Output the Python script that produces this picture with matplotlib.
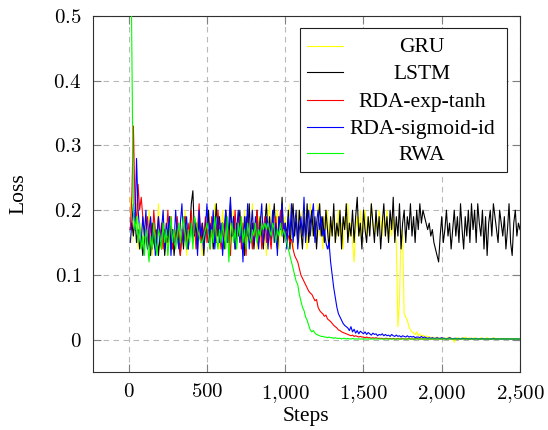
import matplotlib
matplotlib.use("Agg")
import matplotlib.pyplot as plt
from matplotlib.ticker import FixedLocator, FixedFormatter
from matplotlib.patches import Rectangle

plt.rcParams['font.family'] = ['Liberation Serif', 'DejaVu Serif']
plt.rcParams['mathtext.fontset'] = 'cm'

# ---------------- data ----------------
steps = list(range(10, 2510, 10))  # logged every 10 steps (250 points)

series_names = ["GRU", "LSTM", "RDA-exp-tanh", "RDA-sigmoid-id", "RWA"]
series_colors = ["#ffff00", "#000000", "#ff0000", "#0000ff", "#00ff00"]

gru = [
    0.22, 0.15, 0.20, 0.17, 0.21, 0.14, 0.18, 0.16, 0.19, 0.15,
    0.18, 0.14, 0.20, 0.16, 0.13, 0.19, 0.17, 0.15, 0.21, 0.14,
    0.17, 0.20, 0.15, 0.18, 0.13, 0.16, 0.19, 0.14, 0.17, 0.15,
    0.19, 0.16, 0.14, 0.18, 0.15, 0.20, 0.13, 0.17, 0.16, 0.19,
    0.15, 0.18, 0.14, 0.17, 0.20, 0.16, 0.13, 0.18, 0.15, 0.19,
    0.16, 0.14, 0.19, 0.17, 0.21, 0.15, 0.18, 0.14, 0.16, 0.20,
    0.17, 0.15, 0.19, 0.13, 0.18, 0.16, 0.20, 0.14, 0.17, 0.19,
    0.15, 0.18, 0.16, 0.20, 0.14, 0.17, 0.19, 0.15, 0.21, 0.16,
    0.18, 0.14, 0.19, 0.16, 0.20, 0.15, 0.17, 0.13, 0.18, 0.21,
    0.16, 0.19, 0.15, 0.18, 0.20, 0.14, 0.17, 0.21, 0.16, 0.19,
    0.15, 0.18, 0.21, 0.16, 0.14, 0.19, 0.17, 0.20, 0.15, 0.18,
    0.20, 0.16, 0.19, 0.14, 0.18, 0.21, 0.16, 0.19, 0.15, 0.17,
    0.21, 0.16, 0.18, 0.14, 0.19, 0.17, 0.20, 0.15, 0.18, 0.16,
    0.19, 0.15, 0.17, 0.20, 0.16, 0.18, 0.14, 0.19, 0.17, 0.21,
    0.16, 0.18, 0.15, 0.12, 0.17, 0.19, 0.16, 0.20, 0.15, 0.18,
    0.20, 0.16, 0.19, 0.17, 0.21, 0.18, 0.16, 0.19, 0.17, 0.20,
    0.18, 0.16, 0.19, 0.17, 0.20, 0.15, 0.18, 0.16, 0.19, 0.17,
    0.15, 0.02, 0.06, 0.17, 0.16, 0.04, 0.035, 0.03, 0.02, 0.015,
    0.012, 0.010, 0.008, 0.012, 0.006, 0.009, 0.005, 0.007, 0.004, 0.006,
    0.003, 0.005, 0.002, 0.004, 0.003, 0.002, 0.004, 0.002, 0.003, 0.001,
    0.003, 0.002, 0.001, 0.004, 0.002, 0.003, 0.001, -0.004, 0.002, 0.003,
    0.002, 0.001, 0.003, 0.002, 0.004, 0.001, 0.002, 0.003, 0.001, 0.002,
    0.003, 0.001, 0.002, 0.001, 0.003, 0.002, 0.001, 0.002, 0.003, 0.001,
    0.002, 0.001, 0.003, 0.002, 0.001, 0.002, 0.001, 0.002, 0.001, 0.002,
    0.001, 0.002, 0.001, 0.001, 0.002, 0.001, 0.002, 0.001, 0.001, 0.002,
]

lstm = [
    0.17, 0.18, 0.16, 0.19, 0.15, 0.17, 0.14, 0.16, 0.13, 0.15,
    0.17, 0.14, 0.16, 0.13, 0.18, 0.15, 0.14, 0.17, 0.13, 0.16,
    0.14, 0.18, 0.13, 0.16, 0.15, 0.19, 0.14, 0.17, 0.13, 0.16,
    0.18, 0.15, 0.13, 0.17, 0.14, 0.19, 0.16, 0.14, 0.17, 0.21,
    0.23, 0.16, 0.18, 0.14, 0.19, 0.15, 0.17, 0.13, 0.18, 0.16,
    0.20, 0.15, 0.18, 0.14, 0.17, 0.21, 0.16, 0.19, 0.15, 0.18,
    0.14, 0.20, 0.17, 0.15, 0.21, 0.16, 0.19, 0.14, 0.18, 0.16,
    0.20, 0.15, 0.17, 0.13, 0.19, 0.16, 0.21, 0.15, 0.18, 0.14,
    0.17, 0.20, 0.15, 0.19, 0.16, 0.14, 0.18, 0.21, 0.16, 0.19,
    0.15, 0.18, 0.21, 0.16, 0.14, 0.19, 0.17, 0.22, 0.15, 0.18,
    0.16, 0.20, 0.14, 0.18, 0.21, 0.16, 0.19, 0.15, 0.20, 0.17,
    0.14, 0.19, 0.16, 0.21, 0.15, 0.18, 0.20, 0.16, 0.19, 0.14,
    0.18, 0.21, 0.16, 0.19, 0.15, 0.20, 0.17, 0.14, 0.19, 0.16,
    0.21, 0.15, 0.18, 0.16, 0.20, 0.14, 0.19, 0.17, 0.21, 0.15,
    0.18, 0.16, 0.20, 0.15, 0.19, 0.22, 0.16, 0.18, 0.14, 0.20,
    0.17, 0.15, 0.19, 0.16, 0.21, 0.18, 0.15, 0.20, 0.16, 0.19,
    0.14, 0.18, 0.21, 0.16, 0.19, 0.15, 0.20, 0.17, 0.22, 0.15,
    0.19, 0.16, 0.21, 0.14, 0.18, 0.20, 0.15, 0.19, 0.17, 0.21,
    0.16, 0.19, 0.15, 0.20, 0.17, 0.21, 0.18, 0.20, 0.19, 0.18,
    0.17, 0.18, 0.16, 0.17, 0.15, 0.14, 0.13, 0.12, 0.16, 0.19,
    0.15, 0.17, 0.20, 0.16, 0.18, 0.14, 0.17, 0.20, 0.16, 0.19,
    0.15, 0.21, 0.17, 0.14, 0.19, 0.16, 0.20, 0.15, 0.21, 0.17,
    0.20, 0.15, 0.21, 0.18, 0.16, 0.20, 0.14, 0.19, 0.13, 0.18,
    0.20, 0.16, 0.21, 0.19, 0.17, 0.15, 0.20, 0.18, 0.16, 0.19,
    0.14, 0.17, 0.21, 0.15, 0.13, 0.18, 0.20, 0.16, 0.18, 0.17,
]

rda_exp_tanh = [
    0.17, 0.22, 0.33, 0.21, 0.18, 0.24, 0.20, 0.22, 0.19, 0.17,
    0.16, 0.19, 0.15, 0.18, 0.14, 0.20, 0.17, 0.15, 0.19, 0.16,
    0.18, 0.14, 0.17, 0.15, 0.20, 0.16, 0.19, 0.14, 0.17, 0.15,
    0.19, 0.16, 0.13, 0.17, 0.15, 0.19, 0.14, 0.18, 0.16, 0.20,
    0.16, 0.18, 0.14, 0.17, 0.21, 0.15, 0.18, 0.16, 0.19, 0.15,
    0.17, 0.14, 0.19, 0.16, 0.18, 0.15, 0.20, 0.17, 0.14, 0.18,
    0.16, 0.19, 0.15, 0.17, 0.13, 0.18, 0.16, 0.20, 0.15, 0.17,
    0.19, 0.14, 0.18, 0.16, 0.13, 0.19, 0.15, 0.17, 0.14, 0.18,
    0.16, 0.20, 0.15, 0.18, 0.14, 0.17, 0.19, 0.15, 0.18, 0.16,
    0.14, 0.18, 0.16, 0.19, 0.15, 0.17, 0.20, 0.16, 0.18, 0.17,
    0.165, 0.16, 0.15, 0.155, 0.14, 0.13, 0.125, 0.12, 0.11, 0.10,
    0.095, 0.09, 0.085, 0.08, 0.075, 0.072, 0.07, 0.065, 0.06, 0.062,
    0.05, 0.045, 0.042, 0.04, 0.036, 0.038, 0.032, 0.03, 0.028, 0.025,
    0.022, 0.02, 0.018, 0.015, 0.014, 0.012, 0.011, 0.010, 0.009, 0.008,
    0.007, 0.006, 0.007, 0.005, 0.006, 0.005, 0.004, 0.005, 0.004, 0.004,
    0.003, 0.004, 0.003, 0.003, 0.002, 0.003, 0.002, 0.003, 0.002, 0.002,
    0.002, 0.002, 0.001, 0.002, 0.002, 0.001, 0.002, 0.001, 0.002, 0.001,
    0.001, 0.002, 0.001, 0.001, 0.002, 0.001, 0.001, 0.001, 0.002, 0.001,
    0.001, 0.001, 0.001, 0.002, 0.001, 0.001, 0.001, 0.001, 0.001, 0.001,
    0.001, 0.001, 0.001, 0.001, 0.001, 0.001, 0.001, 0.001, 0.001, 0.001,
    0.001, 0.001, 0.001, 0.001, 0.001, 0.001, 0.001, 0.001, 0.001, 0.001,
    0.001, 0.001, 0.001, 0.001, 0.001, 0.001, 0.001, 0.001, 0.001, 0.001,
    0.001, 0.001, 0.001, 0.001, 0.001, 0.001, 0.001, 0.001, 0.001, 0.001,
    0.001, 0.001, 0.001, 0.001, 0.001, 0.001, 0.001, 0.001, 0.001, 0.001,
    0.001, 0.001, 0.001, 0.001, 0.001, 0.001, 0.001, 0.001, 0.001, 0.001,
]

rda_sigmoid_id = [
    0.15, 0.18, 0.21, 0.17, 0.28, 0.20, 0.17, 0.15, 0.19, 0.16,
    0.20, 0.14, 0.17, 0.19, 0.15, 0.18, 0.13, 0.16, 0.19, 0.15,
    0.17, 0.20, 0.14, 0.18, 0.16, 0.19, 0.13, 0.17, 0.15, 0.20,
    0.16, 0.14, 0.18, 0.21, 0.15, 0.17, 0.19, 0.14, 0.16, 0.18,
    0.15, 0.19, 0.17, 0.13, 0.20, 0.16, 0.18, 0.14, 0.17, 0.21,
    0.15, 0.18, 0.16, 0.20, 0.14, 0.17, 0.19, 0.15, 0.18, 0.13,
    0.17, 0.20, 0.15, 0.18, 0.22, 0.16, 0.19, 0.14, 0.17, 0.20,
    0.15, 0.18, 0.12, 0.19, 0.16, 0.21, 0.14, 0.17, 0.20, 0.15,
    0.19, 0.16, 0.14, 0.18, 0.21, 0.15, 0.17, 0.19, 0.14, 0.18,
    0.16, 0.20, 0.15, 0.18, 0.13, 0.19, 0.17, 0.21, 0.16, 0.18,
    0.14, 0.19, 0.16, 0.21, 0.15, 0.18, 0.20, 0.14, 0.17, 0.19,
    0.16, 0.22, 0.15, 0.18, 0.20, 0.16, 0.19, 0.21, 0.15, 0.18,
    0.20, 0.17, 0.19, 0.16, 0.17, 0.15, 0.14, 0.15, 0.12, 0.10,
    0.08, 0.065, 0.05, 0.04, 0.035, 0.03, 0.025, 0.022, 0.02, 0.018,
    0.014, 0.02, 0.012, 0.016, 0.010, 0.014, 0.009, 0.013, 0.011, 0.009,
    0.012, 0.008, 0.011, 0.009, 0.007, 0.010, 0.008, 0.009, 0.006, 0.008,
    0.007, 0.009, 0.006, 0.008, 0.006, 0.007, 0.005, 0.008, 0.006, 0.005,
    0.007, 0.005, 0.006, 0.004, 0.006, 0.005, 0.004, 0.006, 0.004, 0.005,
    0.004, 0.005, 0.003, 0.004, 0.004, 0.003, 0.005, 0.003, 0.004, 0.003,
    0.002, 0.003, 0.002, 0.003, 0.002, 0.002, 0.003, 0.002, 0.002, 0.003,
    0.002, 0.002, 0.001, 0.002, 0.003, 0.002, 0.001, 0.002, 0.002, 0.001,
    0.002, 0.001, 0.002, 0.002, 0.001, 0.002, 0.001, 0.001, 0.002, 0.001,
    0.001, 0.002, 0.001, 0.001, 0.001, 0.002, 0.001, 0.001, 0.001, 0.001,
    0.001, 0.001, 0.002, 0.001, 0.001, 0.001, 0.001, 0.001, 0.001, 0.001,
    0.001, 0.001, 0.001, 0.001, 0.001, 0.001, 0.001, 0.001, 0.001, 0.001,
]

rwa = [
    0.70, 0.45, 0.20, 0.17, 0.19, 0.15, 0.18, 0.14, 0.16, 0.13,
    0.17, 0.15, 0.12, 0.16, 0.14, 0.18, 0.15, 0.13, 0.17, 0.16,
    0.14, 0.18, 0.15, 0.17, 0.13, 0.16, 0.19, 0.15, 0.17, 0.14,
    0.16, 0.18, 0.15, 0.17, 0.19, 0.16, 0.14, 0.17, 0.15, 0.18,
    0.14, 0.19, 0.18, 0.17, 0.16, 0.15, 0.15, 0.16, 0.17, 0.18,
    0.16, 0.14, 0.17, 0.15, 0.19, 0.16, 0.14, 0.17, 0.15, 0.18,
    0.16, 0.14, 0.19, 0.12, 0.16, 0.18, 0.15, 0.17, 0.14, 0.18,
    0.16, 0.19, 0.15, 0.17, 0.14, 0.18, 0.16, 0.15, 0.17, 0.16,
    0.18, 0.15, 0.17, 0.16, 0.18, 0.17, 0.18, 0.17, 0.18, 0.17,
    0.16, 0.18, 0.17, 0.15, 0.17, 0.16, 0.18, 0.16, 0.17, 0.16,
    0.15, 0.14, 0.13, 0.12, 0.11, 0.10, 0.09, 0.085, 0.07, 0.06,
    0.05, 0.045, 0.035, 0.03, 0.022, 0.015, 0.012, 0.014, 0.010, 0.008,
    0.007, 0.006, 0.005, 0.005, 0.004, 0.004, 0.003, 0.004, 0.003, 0.003,
    0.002, 0.003, 0.002, 0.002, 0.002, 0.001, 0.002, 0.002, 0.001, 0.002,
    0.001, 0.001, 0.002, 0.001, 0.001, 0.001, 0.001, 0.001, 0.001, 0.001,
    0.001, 0.001, 0.001, 0.001, 0.001, 0.001, 0.001, 0.001, 0.001, 0.001,
    0.001, 0.001, 0.001, 0.001, 0.001, 0.001, 0.001, 0.001, 0.001, 0.001,
    0.001, 0.001, 0.001, 0.001, 0.001, 0.001, 0.001, 0.001, 0.001, 0.001,
    0.001, 0.001, 0.001, 0.001, 0.001, 0.001, 0.001, 0.001, 0.001, 0.001,
    0.001, 0.001, 0.001, 0.001, 0.001, 0.001, 0.001, 0.001, 0.001, 0.001,
    0.001, 0.001, 0.001, 0.001, 0.001, 0.001, 0.001, 0.001, 0.001, 0.001,
    0.001, 0.001, 0.001, 0.001, 0.001, 0.001, 0.001, 0.001, 0.001, 0.001,
    0.001, 0.001, 0.001, 0.001, 0.001, 0.001, 0.001, 0.001, 0.001, 0.001,
    0.001, 0.001, 0.001, 0.001, 0.001, 0.001, 0.001, 0.001, 0.001, 0.001,
    0.001, 0.001, 0.001, 0.001, 0.001, 0.001, 0.001, 0.001, 0.001, 0.001,
]

series_values = [gru, lstm, rda_exp_tanh, rda_sigmoid_id, rwa]

x_ticks = [0, 500, 1000, 1500, 2000, 2500]
x_tick_labels = [r"$0$", r"$500$", r"$1{,}000$", r"$1{,}500$", r"$2{,}000$", r"$2{,}500$"]
y_ticks = [0, 0.1, 0.2, 0.3, 0.4, 0.5]
y_tick_labels = [r"$0$", r"$0.1$", r"$0.2$", r"$0.3$", r"$0.4$", r"$0.5$"]

# ---------------- figure ----------------
fig = plt.figure(figsize=(5.48, 4.30), dpi=100)
ax = fig.add_axes([92.7 / 548, 1 - 372 / 430, (520 - 92.7) / 548, (372 - 16) / 430])

for vals, col in zip(series_values, series_colors):
    ax.plot(steps, vals, color=col, lw=0.8, zorder=3)

ax.set_xlim(-230, 2500)
ax.set_ylim(-0.05, 0.5)

ax.xaxis.set_major_locator(FixedLocator(x_ticks))
ax.xaxis.set_major_formatter(FixedFormatter(x_tick_labels))
ax.yaxis.set_major_locator(FixedLocator(y_ticks))
ax.yaxis.set_major_formatter(FixedFormatter(y_tick_labels))

ax.grid(True, color="#b8b8b8", lw=0.8, linestyle=(0, (5, 4)), zorder=1)
ax.set_axisbelow(True)
ax.tick_params(direction='in', length=6, width=0.8, color='#808080',
               top=True, right=True, labelsize=15, pad=8)

for sp in ax.spines.values():
    sp.set_color('#303030')
    sp.set_linewidth(0.8)

ax.set_xlabel("Steps", fontsize=15.5)
ax.set_ylabel("Loss", fontsize=15.5)
ax.xaxis.set_label_coords(0.5, -0.097)
ax.yaxis.set_label_coords(-0.15, 0.5)

# legend drawn pgfplots-style (handles left, labels centred)
lx0 = (299.5 - 92.7) / 427.3
lx1 = (506.5 - 92.7) / 427.3
ly1 = (372 - 28.3) / 356
ly0 = (372 - 171.5) / 356
ax.add_patch(Rectangle((lx0, ly0), lx1 - lx0, ly1 - ly0, transform=ax.transAxes,
                       facecolor='white', edgecolor='#202020', lw=0.8, zorder=5))
row_y = [(372 - r) / 356 for r in [45.5, 72.3, 99.5, 126.7, 153.3]]
hx0 = (307 - 92.7) / 427.3
hx1 = (343 - 92.7) / 427.3
tx = (422 - 92.7) / 427.3
for name, col, yy in zip(series_names, series_colors, row_y):
    ax.plot([hx0, hx1], [yy, yy], transform=ax.transAxes, color=col, lw=0.8, zorder=6)
    ax.text(tx, yy, name, transform=ax.transAxes, ha='center', va='center_baseline',
            fontsize=15.5, zorder=6)

fig.savefig("out.png", dpi=100)
